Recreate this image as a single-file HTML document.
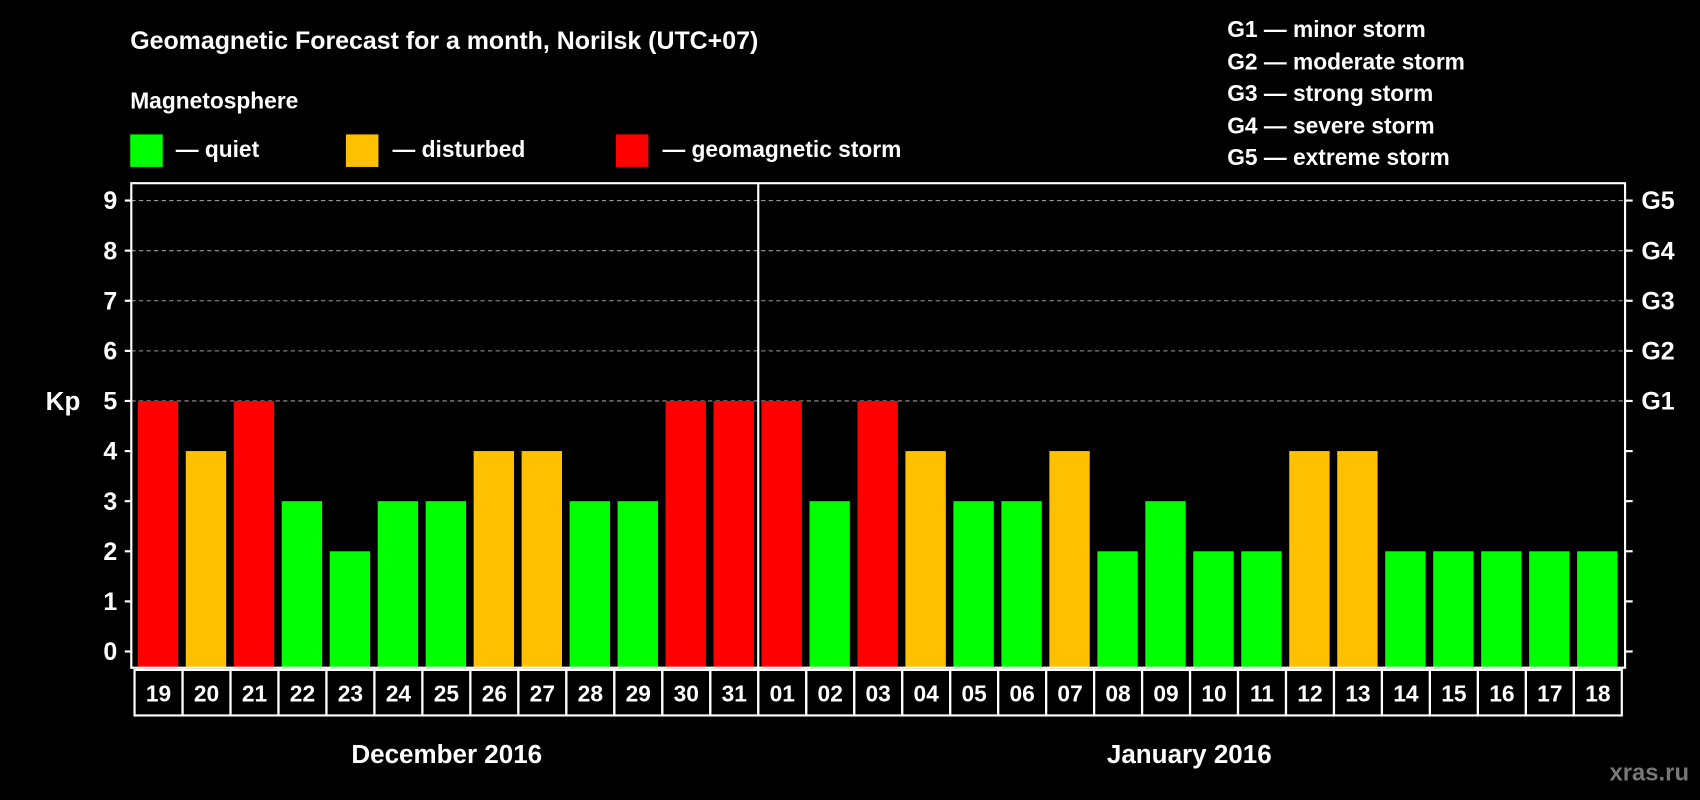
<!DOCTYPE html>
<html><head><meta charset="utf-8"><style>
html,body{margin:0;padding:0;background:#000;}
svg{display:block;font-family:"Liberation Sans",Arial,sans-serif;font-weight:bold;}
</style></head><body>
<svg id="chart" width="1700" height="800" viewBox="0 0 1568 738" xmlns="http://www.w3.org/2000/svg">
<rect width="1568" height="738" fill="#000"/>
<text x="120" y="45" fill="#fff" font-size="23">Geomagnetic Forecast for a month, Norilsk (UTC+07)</text>
<text x="120" y="100" fill="#fff" font-size="21">Magnetosphere</text>
<g><rect x="120" y="124" width="30" height="30" fill="#00ff00"/><text x="162" y="145" fill="#fff" font-size="21">— quiet</text></g>
<g><rect x="319" y="124" width="30" height="30" fill="#ffc000"/><text x="362" y="145" fill="#fff" font-size="21">— disturbed</text></g>
<g><rect x="568" y="124" width="30" height="30" fill="#ff0000"/><text x="611" y="145" fill="#fff" font-size="21">— geomagnetic storm</text></g>
<g fill="#fff" font-size="21">
<text x="1132" y="34">G1 — minor storm</text>
<text x="1132" y="64">G2 — moderate storm</text>
<text x="1132" y="93">G3 — strong storm</text>
<text x="1132" y="123">G4 — severe storm</text>
<text x="1132" y="152">G5 — extreme storm</text>
</g>
<g id="grid"></g><g id="bars"></g><g id="axes"></g><g id="dates"></g>
<text x="58" y="378" fill="#fff" font-size="24" text-anchor="middle">Kp</text>
<text x="412" y="704" fill="#fff" font-size="24" text-anchor="middle">December 2016</text>
<text x="1097" y="704" fill="#fff" font-size="24" text-anchor="middle">January 2016</text>
<text x="1558" y="720" fill="#777" font-size="22" text-anchor="end">xras.ru</text>
</svg>
<script>
const days = ["19","20","21","22","23","24","25","26","27","28","29","30","31","01","02","03","04","05","06","07","08","09","10","11","12","13","14","15","16","17","18"];
const kp = [5,4,5,3,2,3,3,4,4,3,3,5,5,5,3,5,4,3,3,4,2,3,2,2,4,4,2,2,2,2,2];
const yTicks = [0,1,2,3,4,5,6,7,8,9];
const gLabels = ["","","","","","G1","G2","G3","G4","G5"];
const NS="http://www.w3.org/2000/svg";
const L=121,R=1499,T=169,B=616,X0=124,SW=(1496-124)/31;
const y=v=>601-v*(601-185)/9;
const x=i=>X0+i*SW;
function mk(tag,attrs,parent){const e=document.createElementNS(NS,tag);for(const k in attrs)e.setAttribute(k,attrs[k]);parent.appendChild(e);return e;}
const grid=document.getElementById('grid'),bars=document.getElementById('bars'),axes=document.getElementById('axes'),dates=document.getElementById('dates');
yTicks.forEach((v,i)=>{
  if(v>=5){const g=mk('line',{x1:L,x2:R,y1:y(v),y2:y(v),stroke:'#999','stroke-width':1,'stroke-dasharray':'4,3'},grid);
  
  }
  const t=mk('line',{x1:L-6,x2:L,y1:y(v),y2:y(v),stroke:'#fff','stroke-width':2},axes);
  
  
  const t2=mk('line',{x1:R,x2:R+7,y1:y(v),y2:y(v),stroke:'#fff','stroke-width':2},axes);
  
  
  const lb=mk('text',{x:L-13,y:y(v)+8,fill:'#fff','font-size':23,'text-anchor':'end'},axes);
  lb.textContent=v;
  
  
  if(gLabels[i]){const gl=mk('text',{x:R+15,y:y(v)+8,fill:'#fff','font-size':23},axes);
  gl.textContent=gLabels[i];
  
  }
});
kp.forEach((v,i)=>{
  const c=v>=5?'#ff0000':(v>=4?'#ffc000':'#00ff00');
  const b=mk('rect',{x:x(i)+3,y:y(v),width:SW-7,height:B-y(v),fill:c},bars);
  
  
  const bx=mk('rect',{x:x(i),y:618,width:SW,height:42,fill:'none',stroke:'#fff','stroke-width':2},dates);
  
  
  const dt=mk('text',{x:x(i)+SW/2,y:647,fill:'#fff','font-size':21,'text-anchor':'middle'},dates);
  dt.textContent=days[i];
  
  
});
const frame=mk('rect',{x:L,y:T,width:R-L,height:B-T,fill:'none',stroke:'#fff','stroke-width':2},axes);


const div=mk('line',{x1:x(13),x2:x(13),y1:T,y2:B,stroke:'#fff','stroke-width':2},axes);


</script>
</body></html>
